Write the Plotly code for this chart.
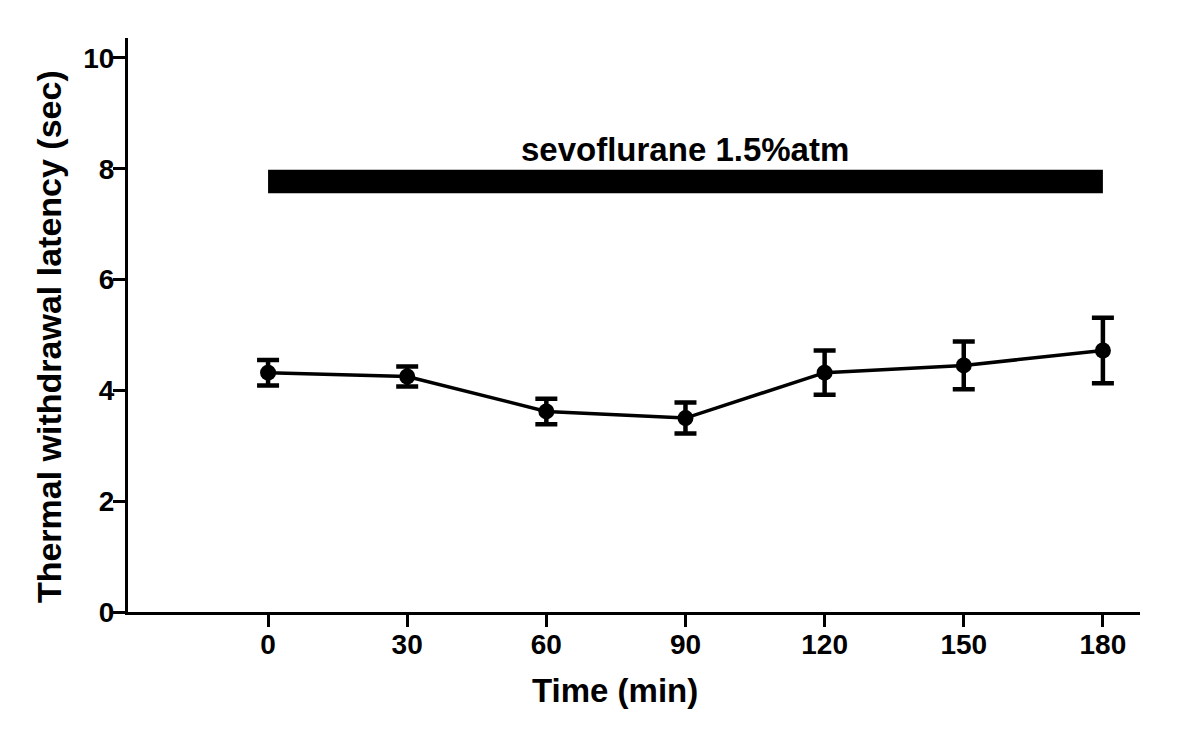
import plotly.graph_objects as go

time_min = [0, 30, 60, 90, 120, 150, 180]
latency_mean = [4.32, 4.25, 3.62, 3.50, 4.32, 4.45, 4.72]
latency_sem = [0.23, 0.18, 0.23, 0.28, 0.40, 0.43, 0.59]
x_ticks = [0, 30, 60, 90, 120, 150, 180]
y_ticks = [0, 2, 4, 6, 8, 10]

x_title = "Time (min)"
y_title = "Thermal withdrawal latency (sec)"

bar_label = "sevoflurane 1.5%atm"
bar_start, bar_end = 0, 180
bar_low, bar_high = 7.56, 7.98
label_x, label_y = 90, 8.34

FONT = "Liberation Sans, Arial, sans-serif"

fig = go.Figure()
fig.add_trace(go.Scatter(
    x=time_min, y=latency_mean,
    mode="lines+markers",
    line=dict(color="black", width=3.5),
    marker=dict(color="black", size=16),
    error_y=dict(type="data", array=latency_sem, visible=True,
                 color="black", thickness=4.5, width=11),
    showlegend=False,
))

fig.add_shape(type="rect", xref="x", yref="y",
              x0=bar_start, x1=bar_end, y0=bar_low, y1=bar_high,
              fillcolor="black", line=dict(width=0))
fig.add_annotation(x=label_x, y=label_y, xref="x", yref="y",
                   text=bar_label, showarrow=False,
                   font=dict(family=FONT, size=33, color="black", weight="bold"))

# axis titles as annotations for exact placement
fig.add_annotation(x=0.481, y=-0.136, xref="paper", yref="paper",
                   xanchor="center", yanchor="middle", showarrow=False,
                   text=x_title,
                   font=dict(family=FONT, size=33, color="black", weight="bold"))
fig.add_annotation(x=-0.078, y=0.479, xref="paper", yref="paper",
                   xanchor="center", yanchor="middle", showarrow=False,
                   text=y_title, textangle=-90,
                   font=dict(family=FONT, size=34, color="black", weight="bold"))

fig.update_layout(
    width=1184, height=723,
    margin=dict(l=120, r=52, t=30, b=119),
    paper_bgcolor="white", plot_bgcolor="white",
    font=dict(family=FONT, color="black", weight="bold"),
    xaxis=dict(
        range=[-30.2, 188], tickvals=x_ticks, ticktext=[str(v) for v in x_ticks],
        showline=True, linecolor="black", linewidth=3,
        ticks="outside", ticklen=12, tickwidth=3, tickcolor="black",
        ticklabelstandoff=-7,
        showgrid=False, zeroline=False,
        tickfont=dict(family=FONT, size=28, color="black", weight="bold"),
    ),
    yaxis=dict(
        range=[0, 10.36], tickvals=y_ticks,
        showline=True, linecolor="black", linewidth=3,
        ticks="outside", ticklen=12, tickwidth=3, tickcolor="black",
        ticklabelstandoff=-7,
        showgrid=False, zeroline=False,
        tickfont=dict(family=FONT, size=28, color="black", weight="bold"),
    ),
)

fig.write_html("out.html")
